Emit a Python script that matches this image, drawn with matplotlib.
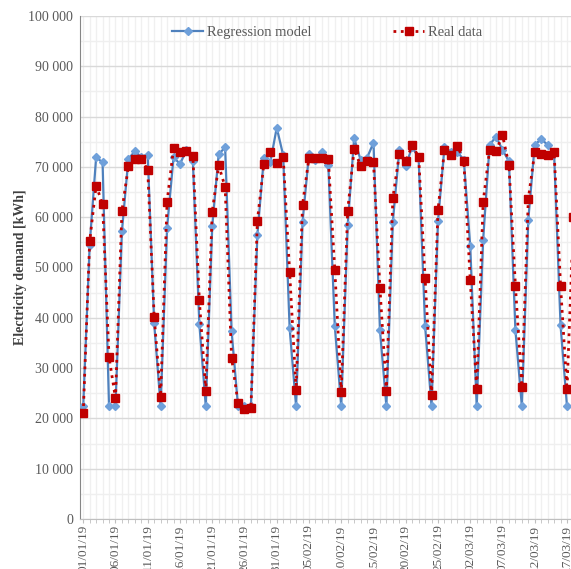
import numpy as np
import matplotlib
matplotlib.use("Agg")
import matplotlib.pyplot as plt
from matplotlib.ticker import FuncFormatter, MultipleLocator

plt.rcParams['font.family'] = ['Liberation Serif', 'DejaVu Serif']

# daily demand, 01/01/19 onwards
model = [22400, 54500, 71900, 70900, 22400, 22400, 57200, 71600, 73100, 72000,
         72400, 38900, 22400, 57900, 71900, 70600, 73300, 71100, 38800, 22400,
         58200, 72500, 73900, 37400, 22400, 22500, 22400, 56500, 71700, 70900,
         77800, 72300, 37900, 22400, 59000, 72600, 71400, 72900, 70300, 38400,
         22400, 58400, 75700, 71400, 71800, 74800, 37600, 22400, 59100, 73300,
         70200, 74000, 71700, 38400, 22400, 59200, 73900, 73000, 73000, 71400,
         54200, 22400, 55500, 74400, 76000, 73400, 71100, 37600, 22400, 59500,
         74400, 75500, 74400, 72700, 38500, 22400]
real = [21000, 55200, 66300, 62600, 32200, 24000, 61300, 70100, 71600, 71600,
        69400, 40200, 24300, 63100, 73700, 72900, 73200, 72100, 43500, 25500,
        61100, 70300, 66000, 32000, 23100, 21800, 22100, 59300, 70500, 73000,
        70700, 72000, 49100, 25700, 62500, 71800, 71700, 71700, 71500, 49600,
        25200, 61300, 73600, 70200, 71200, 70900, 45900, 25400, 63800, 72500,
        71100, 74300, 72000, 47900, 24600, 61400, 73400, 72400, 74200, 71200,
        47500, 25800, 63000, 73400, 73200, 76300, 70400, 46400, 26300, 63600,
        73000, 72500, 72400, 73000, 46400, 25800, 60000]

tick_labels = ['01/01/19', '06/01/19', '11/01/19', '16/01/19', '21/01/19',
               '26/01/19', '31/01/19', '05/02/19', '10/02/19', '15/02/19',
               '20/02/19', '25/02/19', '02/03/19', '07/03/19', '12/03/19',
               '17/03/19']

grey = '#595959'

fig = plt.figure(figsize=(5.71, 5.69), dpi=100)
ax = fig.add_axes([80 / 571, 50 / 569, 491 / 571, 503 / 569])

ax.plot(np.arange(len(model)), model, color='#4F81BD', lw=1.6,
        marker='D', markersize=4.5, markerfacecolor='#6FA0DA',
        markeredgecolor='#6FA0DA', label='Regression model', zorder=3)
ax.plot(np.arange(len(real)), real, color='#C00000', lw=2, ls=':',
        marker='s', markersize=5.5, markerfacecolor='#C00000',
        markeredgecolor='#C00000', label='Real data', zorder=4)

ax.set_xlim(-0.5, 75.62)
ax.set_ylim(0, 100000)

ax.set_xticks(np.arange(0, 76, 5))
ax.set_xticklabels(tick_labels, rotation=90, fontsize=9.5, color=grey)
ax.xaxis.set_minor_locator(MultipleLocator(1))
ax.tick_params(axis='x', which='major', length=3, color='#BFBFBF', pad=1)
ax.tick_params(axis='x', which='minor', length=3, color='#BFBFBF')

ax.yaxis.set_major_locator(MultipleLocator(10000))
ax.yaxis.set_minor_locator(MultipleLocator(5000))
ax.yaxis.set_major_formatter(FuncFormatter(lambda v, p: f'{int(v):,}'.replace(',', ' ')))
ax.tick_params(axis='y', which='both', length=0, labelsize=10, labelcolor=grey, pad=5)

ax.grid(which='major', axis='y', color='#D9D9D9', lw=1)
ax.grid(which='minor', axis='y', color='#EFEFEF', lw=1)
ax.grid(which='both', axis='x', color='#F0F0F0', lw=1)
ax.set_axisbelow(True)

for s in ['top', 'right']:
    ax.spines[s].set_visible(False)
ax.spines['left'].set_color('#868686')
ax.spines['bottom'].set_color('#BFBFBF')

ax.set_ylabel('Electricity demand [kWh]', fontsize=10, fontweight='bold',
              color='#404040', labelpad=1)

leg = ax.legend(loc='upper center', bbox_to_anchor=(0.504, 1.006), ncol=2,
                frameon=False, fontsize=10.5, columnspacing=5.6,
                handlelength=2.1, handletextpad=0.3)
for t in leg.get_texts():
    t.set_color(grey)

fig.savefig('out.png', dpi=100)
